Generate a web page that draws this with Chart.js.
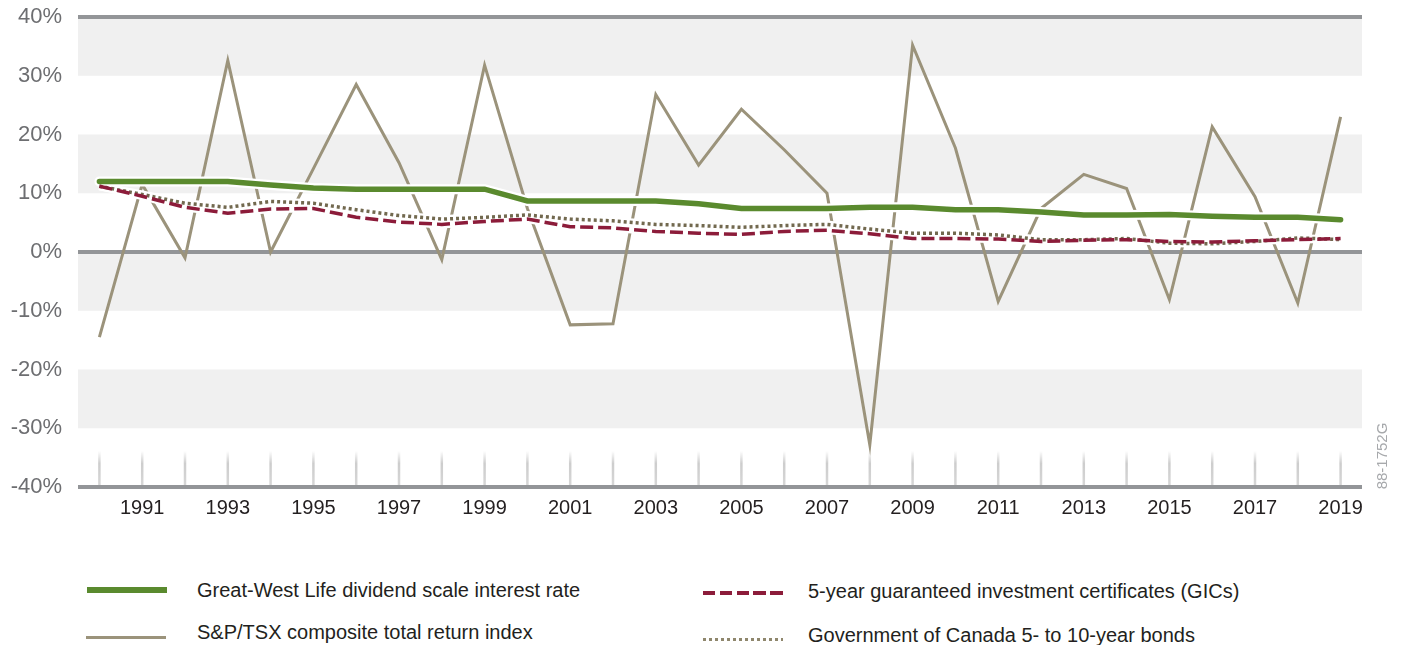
<!DOCTYPE html>
<html>
<head>
<meta charset="utf-8">
<script src="https://cdn.jsdelivr.net/npm/chart.js@4.4.1/dist/chart.umd.min.js"></script>
<style>
  body { margin: 0; background: #fff; font-family: "Liberation Sans", Arial, sans-serif; }
  #page { position: relative; width: 1402px; height: 645px; overflow: hidden; }
  #chartbox { position: absolute; left: 0; top: 0; width: 1402px; height: 530px; }
  .key { position: absolute; font-size: 20px; line-height: 20px; color: #231f20; white-space: nowrap; }
  .swatch { position: absolute; }
  #code { position: absolute; left: 1342px; top: 448px; width: 80px; height: 16px; line-height: 16px;
          font-size: 15px; color: #a7a9ac; text-align: center; transform: rotate(-90deg); }
</style>
</head>
<body>
<div id="page">
  <div id="chartbox"><canvas id="chartline" width="1402" height="530"></canvas></div>

  <div class="swatch" style="left:87px;top:587px;width:80px;height:6px;background:#5a8a2e"></div>
  <div class="key" style="left:197px;top:580px">Great-West Life dividend scale interest rate</div>

  <div class="swatch" style="left:86px;top:636px;width:80px;height:3px;background:#9b937b"></div>
  <div class="key" style="left:197px;top:622px">S&amp;P/TSX composite total return index</div>

  <div class="swatch" style="left:703px;top:591px;width:80px;height:3.5px;
       background:repeating-linear-gradient(90deg,#8c1c3a 0 12.5px,transparent 12.5px 16.8px)"></div>
  <div class="key" style="left:808px;top:581px">5-year guaranteed investment certificates (GICs)</div>

  <div class="swatch" style="left:703px;top:638px;width:80px;height:3px;
       background:repeating-linear-gradient(90deg,#8f876d 0 3px,transparent 3px 6px)"></div>
  <div class="key" style="left:808px;top:625px">Government of Canada 5- to 10-year bonds</div>

  <div id="code">88-1752G</div>
</div>

<script>
const years = ['1990', '1991', '1992', '1993', '1994', '1995', '1996', '1997', '1998', '1999',
               '2000', '2001', '2002', '2003', '2004', '2005', '2006', '2007', '2008', '2009',
               '2010', '2011', '2012', '2013', '2014', '2015', '2016', '2017', '2018', '2019'];

// Great-West Life dividend scale interest rate (%)
const gwl = [12.0, 12.0, 12.0, 12.0, 11.4, 10.9, 10.7, 10.7, 10.7, 10.7,
             8.7, 8.7, 8.7, 8.7, 8.2, 7.4, 7.4, 7.4, 7.6, 7.6,
             7.2, 7.2, 6.8, 6.3, 6.3, 6.4, 6.1, 5.9, 5.9, 5.5];

// S&P/TSX composite total return index (%)
const tsx = [-14.5, 11.5, -1.0, 32.6, 0.0, 14.2, 28.5, 15.2, -1.3, 31.8,
             7.4, -12.4, -12.2, 26.8, 14.8, 24.3, 17.4, 10.0, -32.8, 35.2,
             17.7, -8.4, 7.4, 13.2, 10.8, -8.1, 21.3, 9.4, -8.7, 23.0];

// 5-year GICs (%)
const gic = [11.2, 9.5, 7.6, 6.6, 7.3, 7.4, 5.9, 5.1, 4.7, 5.2,
             5.6, 4.3, 4.1, 3.5, 3.2, 3.0, 3.5, 3.7, 3.1, 2.3,
             2.3, 2.2, 1.8, 2.0, 2.1, 1.8, 1.7, 1.9, 2.1, 2.3];

// Government of Canada 5- to 10-year bonds (%)
const bonds = [11.2, 9.8, 8.3, 7.6, 8.6, 8.3, 7.2, 6.2, 5.6, 5.9,
               6.3, 5.6, 5.3, 4.7, 4.5, 4.2, 4.5, 4.7, 3.9, 3.2,
               3.2, 2.9, 2.1, 2.1, 2.3, 1.5, 1.4, 1.8, 2.4, 2.1];

const yTicks = [-40, -30, -20, -10, 0, 10, 20, 30, 40];
const axisLines = [40, 0, -40];

// grey bands behind the plot + the faded year ticks above the bottom axis
const bands = {
  id: 'bands',
  beforeDraw(chart) {
    const { ctx, chartArea, scales: { x, y } } = chart;
    ctx.save();
    ctx.fillStyle = '#f0f0f0';
    for (let v = 40; v > -40; v -= 20) {
      const top = y.getPixelForValue(v), bottom = y.getPixelForValue(v - 10);
      ctx.fillRect(chartArea.left, top, chartArea.right - chartArea.left, bottom - top);
    }
    const yb = y.getPixelForValue(-40), yt = yb - 36;
    const grad = ctx.createLinearGradient(0, yt, 0, yb);
    grad.addColorStop(0, 'rgba(205,205,205,0)');
    grad.addColorStop(0.35, 'rgba(205,205,205,1)');
    grad.addColorStop(1, 'rgba(215,215,215,1)');
    ctx.strokeStyle = grad;
    ctx.lineWidth = 2.5;
    years.forEach((yr, i) => {
      const px = x.getPixelForValue(i);
      ctx.beginPath();
      ctx.moveTo(px, yt);
      ctx.lineTo(px, yb);
      ctx.stroke();
    });
    ctx.restore();
  }
};

const line = (data, color, width, extra, order) => Object.assign({
  data: data, borderColor: color, borderWidth: width, pointRadius: 0,
  tension: 0, fill: false, order: order
}, extra);

const ctx = document.getElementById('chartline').getContext('2d');

const chartline = new Chart(ctx, {
  type: 'line',
  data: {
    labels: years,
    datasets: [
      line(gwl, '#5a8a2e', 5.5, { borderCapStyle: 'round' }, 0),
      line(gic, '#8c1c3a', 3.5, { borderDash: [13, 5] }, 1),
      line(bonds, '#72694f', 3.5, { borderDash: [3, 3] }, 2),
      line(gwl, '#ffffff', 10, { borderCapStyle: 'round' }, 3),
      line(gic, '#ffffff', 8, {}, 4),
      line(bonds, '#ffffff', 8, {}, 5),
      line(tsx, '#9b937b', 3, {}, 6)
    ]
  },
  options: {
    responsive: false,
    animation: false,
    layout: { padding: { top: 17, right: 40, left: 0, bottom: 0 } },
    plugins: { legend: { display: false }, tooltip: { enabled: false } },
    scales: {
      x: {
        offset: true,
        grid: { display: false },
        border: { display: false },
        ticks: {
          autoSkip: false, maxRotation: 0, padding: 1,
          color: '#231f20', font: { family: 'Liberation Sans', size: 20 },
          callback: function (v) {
            const yr = this.getLabelForValue(v);
            return Number(yr) % 2 === 1 ? yr : '';
          }
        },
        afterFit: s => { s.height = 43; s.paddingLeft = 0; s.paddingRight = 0; }
      },
      y: {
        min: -40, max: 40,
        afterBuildTicks: s => { s.ticks = yTicks.map(v => ({ value: v })); },
        border: { display: false },
        grid: {
          drawTicks: false,
          lineWidth: 4,
          color: c => axisLines.includes(c.tick.value) ? '#939598' : 'rgba(0,0,0,0)'
        },
        ticks: {
          padding: 16, color: '#6d6e71', font: { family: 'Liberation Sans', size: 22 },
          callback: v => v + '%'
        },
        afterFit: s => { s.width = 78; s.paddingTop = 0; s.paddingBottom = 0; }
      }
    }
  },
  plugins: [bands]
});
</script>
</body>
</html>
